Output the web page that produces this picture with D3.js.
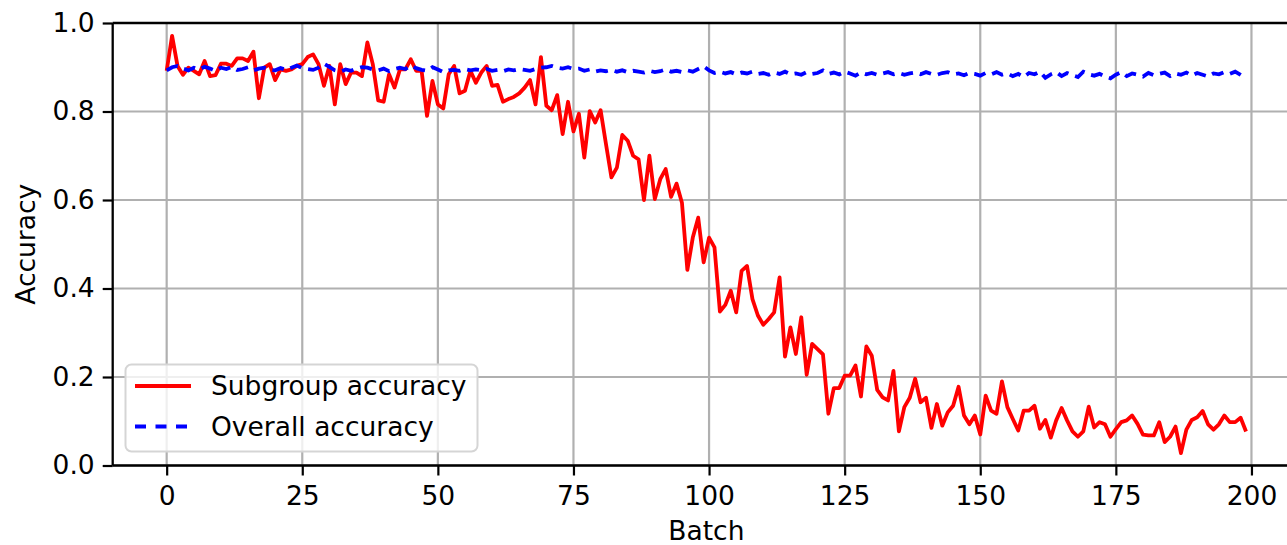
<!DOCTYPE html>
<html>
<head>
<meta charset="utf-8">
<script src="https://cdn.jsdelivr.net/npm/d3@7"></script>
<style>
  body { margin: 0; background: #fff; }
  svg { display: block; font-family: 'DejaVu Sans', sans-serif; }
</style>
</head>
<body>
<div id="chart"></div>
<script>
// subgroup accuracy per batch (0..199)
let subgroup = [
  0.892, 0.971, 0.903, 0.883, 0.899, 0.892, 0.884, 0.914, 0.880, 0.882,
  0.908, 0.908, 0.903, 0.920, 0.920, 0.914, 0.935, 0.830, 0.899, 0.907,
  0.871, 0.895, 0.892, 0.895, 0.903, 0.907, 0.923, 0.929, 0.907, 0.858,
  0.903, 0.816, 0.907, 0.862, 0.888, 0.888, 0.880, 0.956, 0.907, 0.825,
  0.822, 0.884, 0.854, 0.895, 0.895, 0.918, 0.892, 0.892, 0.790, 0.869,
  0.816, 0.807, 0.884, 0.903, 0.841, 0.847, 0.892, 0.865, 0.888, 0.903,
  0.858, 0.860, 0.822, 0.828, 0.833, 0.841, 0.854, 0.871, 0.816, 0.923,
  0.813, 0.803, 0.837, 0.749, 0.822, 0.755, 0.795, 0.696, 0.801, 0.775,
  0.803, 0.726, 0.651, 0.673, 0.747, 0.734, 0.700, 0.692, 0.600, 0.700,
  0.602, 0.647, 0.670, 0.607, 0.637, 0.594, 0.442, 0.515, 0.560, 0.459,
  0.515, 0.493, 0.348, 0.363, 0.395, 0.346, 0.440, 0.451, 0.376, 0.339,
  0.318, 0.331, 0.346, 0.425, 0.246, 0.312, 0.252, 0.335, 0.205, 0.275,
  0.263, 0.251, 0.117, 0.175, 0.175, 0.203, 0.203, 0.226, 0.156, 0.269,
  0.248, 0.171, 0.154, 0.147, 0.214, 0.077, 0.132, 0.153, 0.196, 0.143,
  0.153, 0.085, 0.139, 0.090, 0.120, 0.135, 0.178, 0.113, 0.093, 0.113,
  0.070, 0.158, 0.124, 0.117, 0.190, 0.132, 0.105, 0.079, 0.124, 0.124,
  0.135, 0.083, 0.103, 0.063, 0.102, 0.130, 0.102, 0.077, 0.065, 0.077,
  0.133, 0.086, 0.098, 0.093, 0.065, 0.082, 0.098, 0.102, 0.113, 0.094,
  0.070, 0.068, 0.068, 0.098, 0.053, 0.065, 0.088, 0.028, 0.081, 0.103,
  0.109, 0.123, 0.093, 0.081, 0.093, 0.113, 0.098, 0.098, 0.108, 0.077
]

// overall accuracy per batch (0..199)
let overall = [
  0.893, 0.900, 0.903, 0.897, 0.893, 0.899, 0.895, 0.901, 0.897, 0.892,
  0.899, 0.896, 0.901, 0.894, 0.896, 0.900, 0.893, 0.897, 0.899, 0.894,
  0.893, 0.898, 0.894, 0.899, 0.904, 0.898, 0.896, 0.894, 0.899, 0.908,
  0.901, 0.893, 0.890, 0.895, 0.892, 0.897, 0.900, 0.899, 0.895, 0.893,
  0.897, 0.891, 0.896, 0.899, 0.896, 0.904, 0.898, 0.894, 0.892, 0.900,
  0.895, 0.889, 0.893, 0.894, 0.892, 0.896, 0.893, 0.895, 0.893, 0.896,
  0.892, 0.894, 0.891, 0.895, 0.893, 0.896, 0.894, 0.892, 0.896, 0.899,
  0.900, 0.903, 0.899, 0.897, 0.900, 0.896, 0.897, 0.892, 0.895, 0.890,
  0.893, 0.891, 0.894, 0.890, 0.893, 0.889, 0.892, 0.890, 0.888, 0.892,
  0.889, 0.891, 0.895, 0.890, 0.892, 0.889, 0.893, 0.890, 0.896, 0.902,
  0.893, 0.887, 0.890, 0.886, 0.889, 0.884, 0.888, 0.886, 0.890, 0.885,
  0.887, 0.883, 0.888, 0.885, 0.890, 0.884, 0.886, 0.883, 0.889, 0.885,
  0.887, 0.893, 0.885, 0.888, 0.884, 0.890, 0.886, 0.881, 0.888, 0.884,
  0.887, 0.883, 0.886, 0.889, 0.884, 0.887, 0.883, 0.886, 0.888, 0.884,
  0.889, 0.885, 0.883, 0.887, 0.889, 0.884, 0.886, 0.882, 0.887, 0.885,
  0.881, 0.887, 0.884, 0.889, 0.883, 0.886, 0.880, 0.885, 0.878, 0.887,
  0.884, 0.890, 0.876, 0.884, 0.889, 0.880, 0.887, 0.882, 0.878, 0.890,
  0.884, 0.881, 0.885, 0.879, 0.875, 0.883, 0.889, 0.880, 0.886, 0.883,
  0.879, 0.887, 0.882, 0.885, 0.888, 0.880, 0.886, 0.883, 0.888, 0.881,
  0.887, 0.883, 0.879, 0.886, 0.884, 0.889, 0.885, 0.890, 0.883, 0.875
]

let xTicks = [0, 25, 50, 75, 100, 125, 150, 175, 200]
let yTicks = [0.0, 0.2, 0.4, 0.6, 0.8, 1.0]
let legendLabels = ['Subgroup accuracy', 'Overall accuracy']

let w = 1287
let h = 545
let padL = 112.7
let padR = 1300 // axes run past the picture edge
let padT = 23
let padB = 465.5
let fs = '26.5px'

let x = d3.scaleLinear().domain([-9.95, 208.95]).range([padL, padR])
let y = d3.scaleLinear().domain([0, 1]).range([padB, padT])

let svg = d3.select('#chart').append('svg')
  .attr('width', w)
  .attr('height', h)

// grid
let grid = svg.append('g').attr('stroke', '#b0b0b0').attr('stroke-width', 2.2)
grid.selectAll('.gx').data(xTicks).enter().append('line')
  .attr('x1', function (d) { return x(d) })
  .attr('x2', function (d) { return x(d) })
  .attr('y1', padT)
  .attr('y2', padB)
grid.selectAll('.gy').data(yTicks).enter().append('line')
  .attr('x1', padL)
  .attr('x2', padR)
  .attr('y1', function (d) { return y(d) })
  .attr('y2', function (d) { return y(d) })

let line = function (vals) {
  return d3.line()
    .x(function (d, i) { return x(i) })
    .y(function (d) { return y(d) })(vals)
}

svg.append('path')
  .attr('d', line(subgroup))
  .attr('fill', 'none')
  .attr('stroke', '#ff0000')
  .attr('stroke-width', 3.8)
  .attr('stroke-linejoin', 'round')

svg.append('path')
  .attr('d', line(overall))
  .attr('fill', 'none')
  .attr('stroke', '#0000ff')
  .attr('stroke-width', 3.8)
  .attr('stroke-dasharray', '12,7')

// axes
let xAxis = d3.axisBottom(x).tickValues(xTicks).tickSize(10).tickPadding(11)
  .tickFormat(d3.format('d'))
let yAxis = d3.axisLeft(y).tickValues(yTicks).tickSize(10).tickPadding(8)
  .tickFormat(d3.format('.1f'))

let gx = svg.append('g').attr('transform', 'translate(0,' + padB + ')').call(xAxis)
let gy = svg.append('g').attr('transform', 'translate(' + padL + ',0)').call(yAxis)
;[gx, gy].forEach(function (g) {
  g.select('.domain').remove()
  g.selectAll('.tick line').attr('stroke', '#000').attr('stroke-width', 2.2)
  g.selectAll('.tick text').attr('fill', '#000').style('font-size', fs)
    .style('font-family', 'DejaVu Sans, sans-serif')
})

// spines
svg.append('line').attr('x1', padL).attr('x2', padL).attr('y1', padT).attr('y2', padB)
  .attr('stroke', '#000').attr('stroke-width', 2.3)
svg.append('line').attr('x1', padL).attr('x2', padR).attr('y1', padB).attr('y2', padB)
  .attr('stroke', '#000').attr('stroke-width', 2.3)
svg.append('line').attr('x1', padL).attr('x2', padR).attr('y1', padT).attr('y2', padT)
  .attr('stroke', '#000').attr('stroke-width', 2.3)

// axis labels
svg.append('text')
  .attr('x', (padL + padR) / 2)
  .attr('y', 540)
  .attr('text-anchor', 'middle')
  .style('font-size', fs)
  .text('Batch')
svg.append('text')
  .attr('transform', 'translate(35,' + (padT + padB) / 2 + ') rotate(-90)')
  .attr('text-anchor', 'middle')
  .style('font-size', fs)
  .text('Accuracy')

// legend
let lg = svg.append('g')
lg.append('rect')
  .attr('x', 125.5).attr('y', 364.5)
  .attr('width', 352).attr('height', 87)
  .attr('rx', 6)
  .attr('fill', 'rgba(255,255,255,0.8)')
  .attr('stroke', '#d5d5d5')
  .attr('stroke-width', 2)
let items = lg.selectAll('.item').data(legendLabels).enter().append('g')
  .attr('transform', function (d, i) { return 'translate(0,' + (386 + i * 40.5) + ')' })
items.append('line')
  .attr('x1', 135).attr('x2', 191)
  .attr('stroke', function (d, i) { return i === 0 ? '#ff0000' : '#0000ff' })
  .attr('stroke-width', 3.8)
  .attr('stroke-dasharray', function (d, i) { return i === 0 ? null : '11,9.5' })
items.append('text')
  .attr('x', 211)
  .attr('dy', '0.35em')
  .style('font-size', fs)
  .text(function (d) { return d })
</script>
</body>
</html>
